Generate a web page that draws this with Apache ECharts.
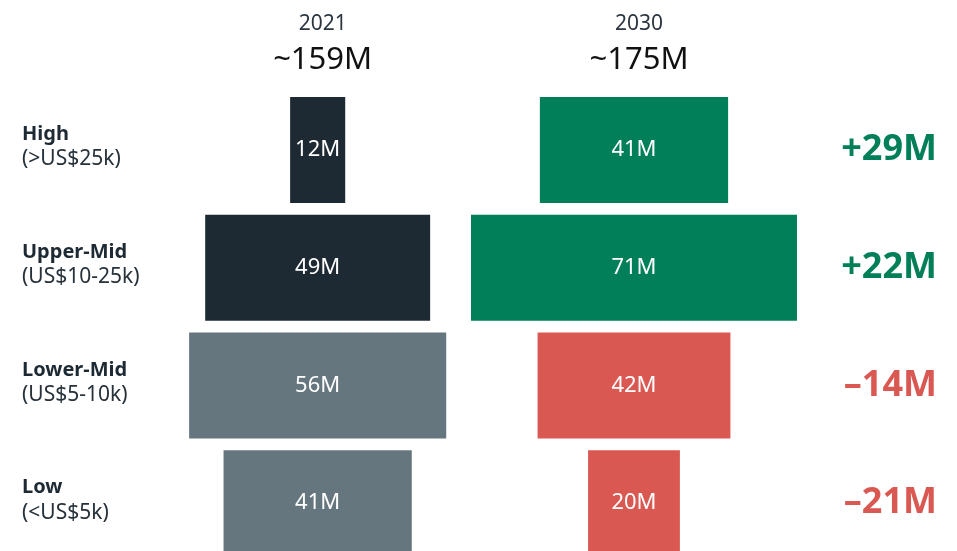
<!DOCTYPE html>
<html>
<head>
<meta charset="utf-8">
<script src="https://cdn.jsdelivr.net/npm/echarts@6/dist/echarts.min.js"></script>
<style>
html,body{margin:0;padding:0;background:#fff;}
#chart{width:957px;height:551px;}
</style>
</head>
<body>
<div id="chart"></div>
<script>
// ---- data ----
var classNames = ['High', 'Upper-Mid', 'Lower-Mid', 'Low'];
var classRanges = ['(>US$25k)', '(US$10-25k)', '(US$5-10k)', '(<US$5k)'];
var years = ['2021', '2030'];
var totals = ['~159M', '~175M'];
var values2021 = [12, 49, 56, 41];
var values2030 = [41, 71, 42, 20];

// ---- styling ----
var FONT = 'Noto Sans';
var colors2021 = ['#1e2a33', '#1e2a33', '#66767e', '#66767e'];
var colors2030 = ['#007f59', '#007f59', '#d95852', '#d95852'];
var GREEN = '#007f59', RED = '#d95852';
var X_MAX = 199.3;      // axis span (M) across the grid width
var CENTER_2021 = 64.4; // column centre on the value axis
var CENTER_2030 = 133.3;

var deltas = values2030.map(function (v, i) { return v - values2021[i]; });

function base(vals, c) { return vals.map(function (v) { return c - v / 2; }); }
function colored(vals, cols) {
  return vals.map(function (v, i) { return { value: v, itemStyle: { color: cols[i] } }; });
}

var barLabel = {
  show: true, position: 'inside', color: '#ffffff',
  fontFamily: FONT, fontSize: 22, formatter: function (p) { return p.value + 'M'; }
};

var chart = echarts.init(document.getElementById('chart'));
chart.setOption({
  backgroundColor: '#ffffff',
  animation: false,
  textStyle: { fontFamily: FONT },
  title: years.map(function (y, i) {
    var c = i === 0 ? CENTER_2021 : CENTER_2030;
    return {
      text: y, subtext: totals[i],
      left: 22 + c * 915 / X_MAX, top: 9, textAlign: 'center', itemGap: 10,
      textStyle: { fontFamily: FONT, fontSize: 21, fontWeight: 'normal', color: '#2b3640' },
      subtextStyle: { fontFamily: FONT, fontSize: 31, color: '#111111' }
    };
  }),
  grid: { left: 22, right: 20, top: 91, height: 471, outerBoundsMode: 'none', containLabel: false },
  xAxis: { type: 'value', min: 0, max: X_MAX, show: false },
  yAxis: [{
    type: 'category', data: classNames, inverse: true,
    axisLine: { show: false }, axisTick: { show: false }, splitLine: { show: false },
    axisLabel: {
      inside: true, margin: 0, padding: [0, 0, 6, 0],
      formatter: function (v, i) { return '{b|' + v + '}\n{r|' + classRanges[i] + '}'; },
      rich: {
        b: { fontFamily: FONT, fontSize: 20, fontWeight: 'bold', color: '#1e2a33', lineHeight: 25 },
        r: { fontFamily: FONT, fontSize: 21, color: '#26313a', lineHeight: 25 }
      }
    }
  }, {
    type: 'category', data: classNames, inverse: true, position: 'right',
    axisLine: { show: false }, axisTick: { show: false }, splitLine: { show: false },
    axisLabel: {
      inside: true, margin: 0,
      formatter: function (v, i) {
        var d = deltas[i];
        return d >= 0 ? '{p|+' + d + 'M}' : '{n|\u2013' + Math.abs(d) + 'M}';
      },
      rich: {
        p: { fontFamily: FONT, fontSize: 36, fontWeight: 'bold', color: GREEN },
        n: { fontFamily: FONT, fontSize: 36, fontWeight: 'bold', color: RED }
      }
    }
  }],
  series: [
    { type: 'bar', stack: 'a', yAxisIndex: 0, barWidth: 106, barGap: '-100%', silent: true,
      itemStyle: { color: 'transparent' }, data: base(values2021, CENTER_2021) },
    { type: 'bar', stack: 'a', yAxisIndex: 0, barWidth: 106, barGap: '-100%',
      label: barLabel, data: colored(values2021, colors2021) },
    { type: 'bar', stack: 'b', yAxisIndex: 0, barWidth: 106, barGap: '-100%', silent: true,
      itemStyle: { color: 'transparent' }, data: base(values2030, CENTER_2030) },
    { type: 'bar', stack: 'b', yAxisIndex: 0, barWidth: 106, barGap: '-100%',
      label: barLabel, data: colored(values2030, colors2030) }
  ]
});
</script>
</body>
</html>
